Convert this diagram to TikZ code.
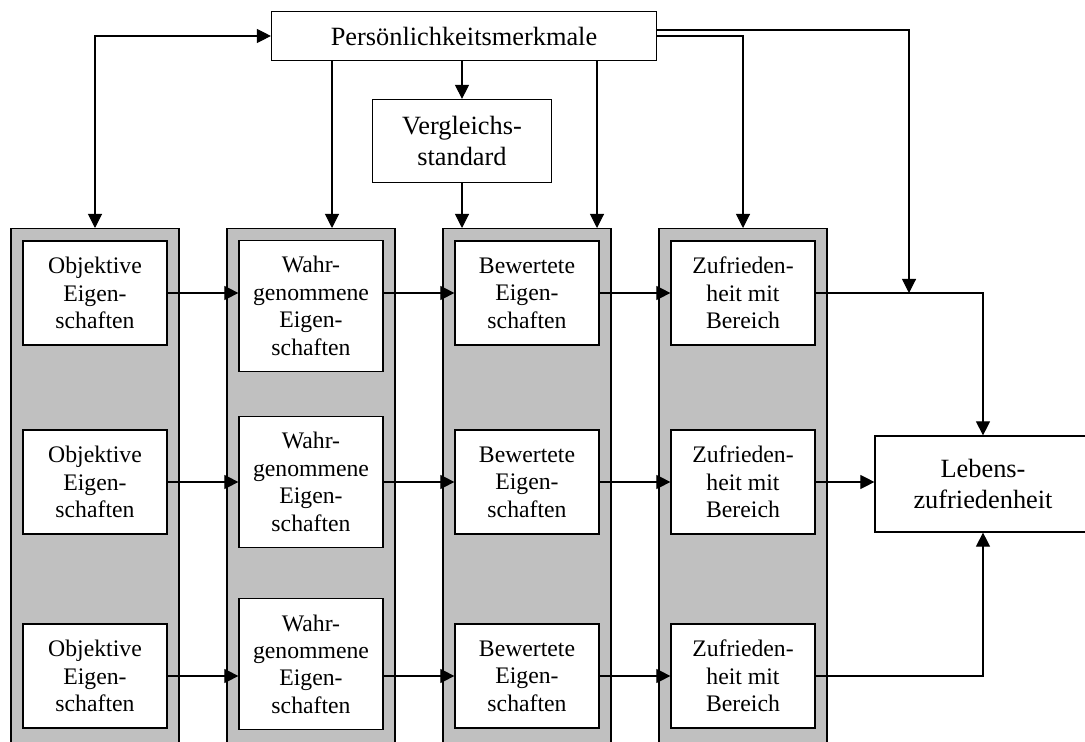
\documentclass[tikz,border=0pt]{standalone}
\usepackage{fontspec}
\setmainfont{Liberation Serif}
\usetikzlibrary{arrows.meta}
\definecolor{panelgray}{HTML}{C0C0C0}

\begin{document}
\begin{tikzpicture}[x=0.02cm, y=-0.02cm,
    every node/.style={align=center, inner sep=0pt},
    smallbox/.style={draw, line width=0.7pt, fill=white, minimum width=2.88cm, minimum height=2.08cm, font=\fontsize{13.5}{15.6}\selectfont},
    tallbox/.style={smallbox, minimum height=2.62cm},
    bigbox/.style={draw, line width=0.7pt, fill=white, font=\fontsize{15}{18.2}\selectfont},
    panel/.style={draw, line width=0.8pt, fill=panelgray, minimum width=3.36cm, minimum height=10.8cm, anchor=north},
    arr/.style={-{Triangle[length=0.28cm, width=0.28cm]}, line width=0.6pt},
    arrboth/.style={{Triangle[length=0.28cm, width=0.28cm]}-{Triangle[length=0.28cm, width=0.28cm]}, line width=0.6pt},
  ]
  \useasboundingbox (0,0) rectangle (1085,742);

  % Gray panels (open towards the bottom)
  \foreach \c in {1,...,4} {
      \node (col\c) [panel] at (95+216*\c-216, 228) {};
    }

  % Boxes in the panels
  \foreach \r/\y in {1/293, 2/482, 3/676} {
      \node (obj\r) [smallbox] at (95,\y) {Objektive\\Eigen-\\schaften};
      \node (bew\r) [smallbox] at (527,\y) {Bewertete\\Eigen-\\schaften};
      \node (zuf\r) [smallbox] at (743,\y) {Zufrieden-\\heit mit\\Bereich};
    }
  \foreach \r/\y in {1/306, 2/482, 3/664} {
      \node (wahr\r) [tallbox] at (311,\y) {Wahr-\\genommene\\Eigen-\\schaften};
    }

  % Top and right boxes
  \node (pers) [bigbox, minimum width=7.7cm, minimum height=0.98cm] at (464,36) {Persönlichkeitsmerkmale};
  \node (vgl) [bigbox, minimum width=3.58cm, minimum height=1.66cm] at (462,141) {Vergleichs-\\standard};
  \node (leb) [bigbox, minimum width=4.32cm, minimum height=1.92cm] at (983,484) {Lebens-\\zufriedenheit};

  % Free ends
  \coordinate (t2) at (332,228);
  \coordinate (t3) at (597,228);
  \coordinate (mrg) at (909,293);

  % From Persoenlichkeitsmerkmale
  \draw[arrboth] (pers.west) -| (col1.north);
  \draw[arr] (pers.south -| t2) -- (t2);
  \draw[arr] (pers.south -| vgl.north) -- (vgl.north);
  \draw[arr] (vgl.south) -- (vgl.south |- col3.north);
  \draw[arr] (pers.south -| t3) -- (t3);
  \draw[arr] (pers.east) -| (col4.north);
  \draw[arr] ([yshift=0.12cm]pers.east) -| (mrg);

  % Rows
  \foreach \r in {1,2,3} {
      \draw[arr] (obj\r.east) -- (obj\r.east -| wahr\r.west);
      \draw[arr] (bew\r.west -| wahr\r.east) -- (bew\r.west);
      \draw[arr] (bew\r.east) -- (zuf\r.west);
    }

  % To Lebenszufriedenheit
  \draw[arr] (zuf1.east) -| (leb.north);
  \draw[arr] (zuf2.east) -- (zuf2.east -| leb.west);
  \draw[arr] (zuf3.east) -| (leb.south);
\end{tikzpicture}
\end{document}
